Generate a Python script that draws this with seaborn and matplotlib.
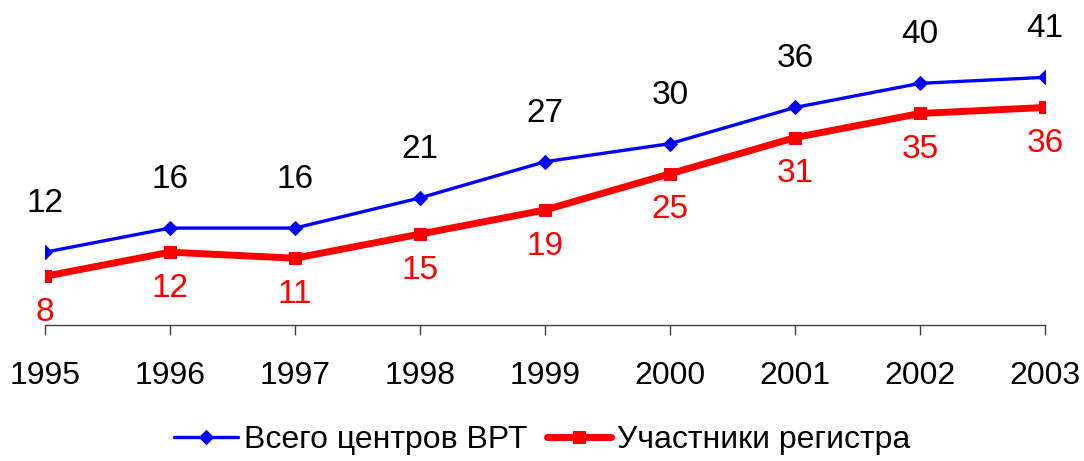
import pandas as pd
import matplotlib.pyplot as plt
import seaborn as sns

years = [1995, 1996, 1997, 1998, 1999, 2000, 2001, 2002, 2003]
total_centers = [12, 16, 16, 21, 27, 30, 36, 40, 41]
registry = [8, 12, 11, 15, 19, 25, 31, 35, 36]

label_total = 'Всего центров ВРТ'
label_reg = 'Участники регистра'

sns.set_style('white')
plt.rcParams['font.family'] = ['Liberation Sans', 'DejaVu Sans']

fig = plt.figure(figsize=(10.84, 4.61), dpi=100)
ax = fig.add_axes([0.0415, 0.296, 0.9225, 0.654])

df = pd.DataFrame({'year': years, 'total': total_centers, 'reg': registry})

sns.lineplot(ax=ax, data=df, x='year', y='total', color='#0000FF', linewidth=2.4,
             marker='D', markersize=7, markeredgecolor='#0000FF', label=label_total)
sns.lineplot(ax=ax, data=df, x='year', y='reg', color='#FF0000', linewidth=5,
             marker='s', markersize=8, markeredgecolor='#FF0000', label=label_reg)

# value labels
for x, y in zip(years, total_centers):
    ax.annotate(str(y), (x, y), xytext=(0, 35), textcoords='offset points',
                ha='center', va='center', fontsize=24, color='black')
for x, y in zip(years, registry):
    ax.annotate(str(y), (x, y), xytext=(0, -26), textcoords='offset points',
                ha='center', va='center', fontsize=24, color='#FF0000')

ax.set_xlim(1995, 2003)
ax.set_ylim(0, 50)
ax.set_xticks(years)
ax.set_xticklabels([str(y) for y in years], fontsize=23, color='black')
ax.set_yticks([])
ax.set_xlabel('')
ax.set_ylabel('')
for s in ['top', 'right', 'left']:
    ax.spines[s].set_visible(False)
ax.spines['bottom'].set_color('#404040')
ax.spines['bottom'].set_linewidth(1)
ax.tick_params(axis='x', direction='out', length=7, width=1, color='#404040', pad=19, bottom=True)

handles, labels = ax.get_legend_handles_labels()
ax.get_legend().remove()
leg = fig.legend(handles, labels, loc='center', bbox_to_anchor=(0.5, 0.046), ncol=2,
                 frameon=False, fontsize=23, handlelength=2.0, handletextpad=0.2, columnspacing=0.6)
for t in leg.get_texts():
    t.set_color('black')

plt.savefig('out.png', dpi=100)
